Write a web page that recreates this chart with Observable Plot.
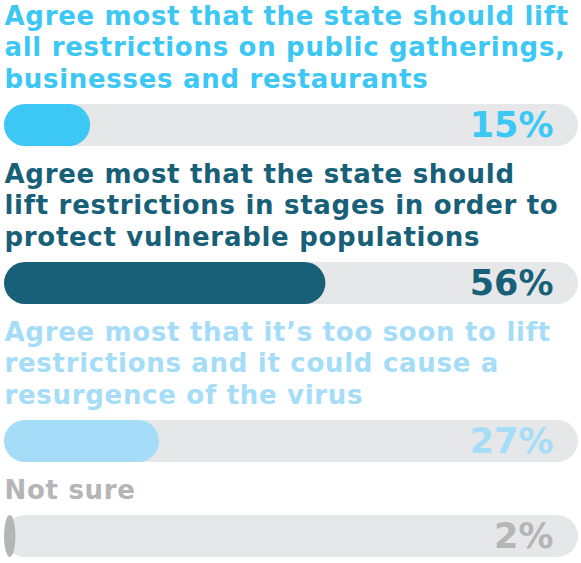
<!DOCTYPE html>
<html>
<head>
<meta charset="utf-8">
<script src="https://cdn.jsdelivr.net/npm/d3@7"></script>
<script src="https://cdn.jsdelivr.net/npm/@observablehq/plot@0.6"></script>
<style>
  html, body { margin: 0; padding: 0; background: #fff; }
</style>
</head>
<body>
<div id="chart"></div>
<script>
const categories = ["lift_all", "lift_stages", "too_soon", "not_sure"];
const labels = [
  "Agree most that the state should lift\nall restrictions on public gatherings,\nbusinesses and restaurants",
  "Agree most that the state should\nlift restrictions in stages in order to\nprotect vulnerable populations",
  "Agree most that it\u2019s too soon to lift\nrestrictions and it could cause a\nresurgence of the virus",
  "Not sure"
];
const values = [15, 56, 27, 2];
const colors = ["#3cc7f4", "#176078", "#a5ddf8", "#b4b5b7"];

// layout derived from the number of label lines
const LINE = 31.5, FIRST = 16, GAP_TO_BAR = 25, BAR_H = 42, ROW_GAP = 12;
let rowTop = 0;
const rows = [];
const lineData = [];
categories.forEach((cat, i) => {
  const lines = labels[i].split("\n");
  lines.forEach((t, j) => lineData.push({cat, text: t, y: rowTop + FIRST + j * LINE}));
  const barTop = rowTop + FIRST + (lines.length - 1) * LINE + GAP_TO_BAR;
  const barBottom = barTop + BAR_H;
  rows.push({cat, value: values[i], barTop, barBottom, mid: (barTop + barBottom) / 2});
  rowTop = barBottom + ROW_GAP;
});

const font = "'DejaVu Sans', Verdana, sans-serif";
const chart = Plot.plot({
  width: 581,
  height: 563,
  margin: 0,
  x: {domain: [0, 100], range: [4, 578], axis: null},
  y: {domain: [0, 563], range: [0, 563], axis: null},
  color: {domain: categories, range: colors},
  style: {fontFamily: font, background: "#fff"},
  marks: [
    Plot.rect(rows, {x1: 0, x2: 100, y1: "barTop", y2: "barBottom", fill: "#e6e7e8", rx: 21}),
    Plot.rect(rows, {x1: 0, x2: "value", y1: "barTop", y2: "barBottom", fill: "cat", rx: 21}),
    Plot.text(lineData, {x: 0, y: "y", text: "text", textAnchor: "start", fill: "cat",
      fontSize: 26, fontWeight: "bold", fontFamily: font}),
    Plot.text(rows, {x: 100, dx: -25, y: "mid", text: d => d.value + "%", textAnchor: "end",
      fill: "cat", fontSize: 35, fontWeight: "bold", fontFamily: font})
  ]
});
// widen the tracking of the label lines (first text mark)
const textGroups = d3.select(chart).selectAll('g[aria-label="text"]');
textGroups.filter((d, i) => i === 0).selectAll("text").style("letter-spacing", "0.7px");
document.getElementById("chart").appendChild(chart);
</script>
</body>
</html>
